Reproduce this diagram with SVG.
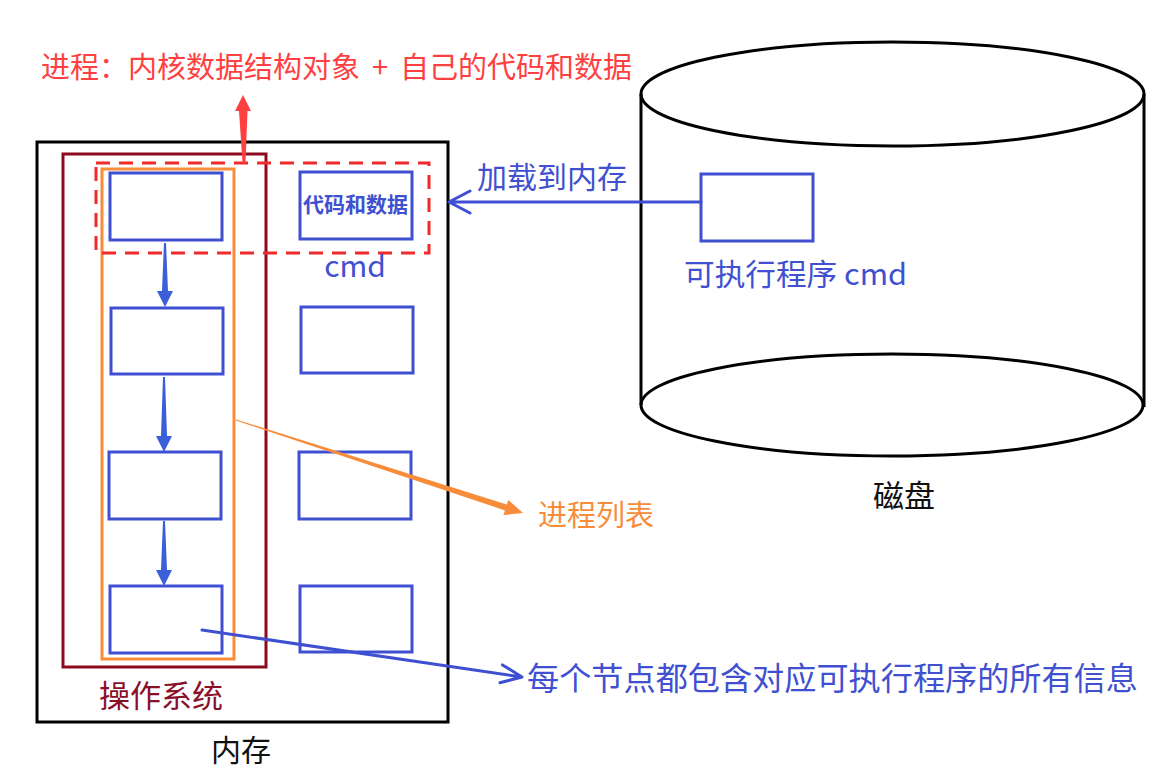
<svg xmlns="http://www.w3.org/2000/svg" width="1162" height="779" viewBox="0 0 1162 779">
<style>
text{font-family:"Noto Sans CJK SC","Microsoft YaHei",sans-serif}
.frame{fill:none;stroke:#000;stroke-width:3}
.os{fill:none;stroke:#8B0A1E;stroke-width:3}
.plist{fill:none;stroke:#F78C3B;stroke-width:3}
.proc{fill:none;stroke:#EE2A2A;stroke-width:3;stroke-dasharray:14 9}
.node{fill:#fff;stroke:#3F4FD1;stroke-width:3}
.blue{fill:#4050D0}
.line{fill:none;stroke:#3F4FD1;stroke-width:3;stroke-linecap:round;stroke-linejoin:round}
.down{fill:#3A5FD9}
</style>
<rect width="1162" height="779" fill="#fff"/>
<g id="disk">
<path class="frame" d="M641,94 V405 M1144,94 V407"/>
<ellipse class="frame" cx="892.5" cy="94" rx="251.5" ry="52" fill="#fff"/>
<ellipse class="frame" cx="892" cy="405" rx="251" ry="51"/>
<text x="873" y="507" font-size="31" fill="#111">磁盘</text>
</g>
<g id="exe">
<rect class="node" x="701" y="174" width="112" height="67"/>
<text class="blue" x="684" y="285" font-size="30" textLength="223" lengthAdjust="spacingAndGlyphs">可执行程序 cmd</text>
</g>
<g id="memory">
<rect class="frame" x="37" y="142" width="411" height="580"/>
<text x="211" y="761" font-size="30" fill="#111">内存</text>
</g>
<g id="os">
<rect class="os" x="63" y="154" width="203" height="513"/>
<text x="99" y="707" font-size="31" fill="#8A1028">操作系统</text>
</g>
<g id="process-list">
<rect class="plist" x="102" y="169" width="132" height="490"/>
</g>
<g id="process">
<rect class="proc" x="96" y="163" width="333" height="90"/>
</g>
<g id="node1"><rect class="node" x="110" y="173" width="112" height="67"/></g>
<g id="node2"><rect class="node" x="111" y="308" width="112" height="66"/></g>
<g id="node3"><rect class="node" x="109" y="452" width="112" height="67"/></g>
<g id="node4"><rect class="node" x="110" y="586" width="112" height="67"/></g>
<g id="code1">
<rect class="node" x="300" y="172" width="112" height="67"/>
<text class="blue" x="355.5" y="212" font-size="21" font-weight="bold" text-anchor="middle">代码和数据</text>
<text class="blue" x="355" y="277" font-size="30" text-anchor="middle">cmd</text>
</g>
<g id="code2"><rect class="node" x="301" y="307" width="112" height="66"/></g>
<g id="code3"><rect class="node" x="299" y="452" width="112" height="67"/></g>
<g id="code4"><rect class="node" x="300" y="586" width="112" height="66"/></g>
<g id="title">
<text y="78" font-size="29" fill="#FF4040"><tspan x="41">进程：内核数据结构对象</tspan><tspan x="372">+</tspan><tspan x="400">自己的代码和数据</tspan></text>
</g>
<g id="labels">
<text class="blue" x="477" y="188" font-size="30">加载到内存</text>
<text x="538" y="526" font-size="29" fill="#F78C3B">进程列表</text>
<text class="blue" x="527" y="690" font-size="32" textLength="611" lengthAdjust="spacingAndGlyphs">每个节点都包含对应可执行程序的所有信息</text>
</g>
<g id="connectors">
<polygon class="down" points="164,243 166,243 168,291 173,291 165,307 157,291 162,291"/>
<polygon class="down" points="163,377 165,377 167,436 172,436 164,452 156,436 161,436"/>
<polygon class="down" points="163,521 165,521 167,570 172,570 164,586 156,570 161,570"/>
<polygon fill="#FF4040" points="242.5,163 245.5,163 247.5,111 251,111 243,95 235,111 239,111"/>
<polygon fill="#F78C3B" points="236.2,419.5 235.8,420.5 505,510.4 503.4,515.1 523,513 508.4,499.9 506.8,504.6"/>
<path class="line" d="M701,202 H449 M470,191 L449,202 L470,213"/>
<path class="line" d="M202,630 L522,677 M502.5,664.9 L522,677 L499.9,682.7"/>
</g>
</svg>
